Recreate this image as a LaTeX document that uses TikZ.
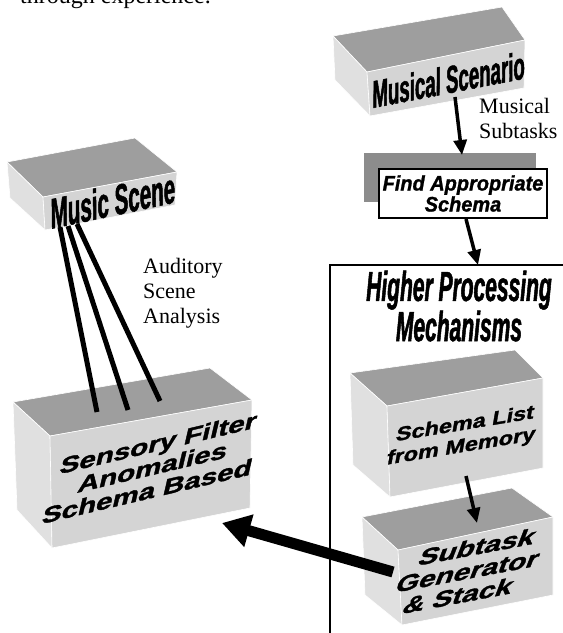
\documentclass[tikz,border=0pt]{standalone}
\usepackage{fontspec}
\setmainfont{Liberation Serif}
\newfontfamily\findsans[FakeStretch = 0.95, FakeBold = 1.2]{Liberation Sans Bold Italic}
\newfontfamily\widesans[FakeStretch = 1.12, FakeBold = 1.5]{Liberation Sans Bold}
\newfontfamily\narrowsans[FakeStretch = 0.5, FakeSlant = 0.2, FakeBold = 1.2]{Liberation Sans Bold}
\newfontfamily\narrowital[FakeStretch = 0.5, FakeBold = 1.2]{Liberation Sans Bold Italic}
\usetikzlibrary{arrows.meta}
\definecolor{topgray}{gray}{0.62}
\definecolor{frontgray}{gray}{0.83}
\definecolor{sidegray}{gray}{0.88}
\definecolor{bargray}{gray}{0.55}
\tikzset{
	topface/.style = {fill = topgray, draw = white, line width = 0.6pt},
	sideface/.style = {fill = sidegray, draw = white, line width = 0.6pt},
	frontface/.style = {fill = frontgray, draw = white, line width = 0.6pt},
	blocklabel/.style = {font = \widesans\fontsize{24}{25}\selectfont, align = center, inner sep = 0pt},
	narrowlabel/.style = {font = \narrowsans\fontsize{42}{34}\selectfont, align = center, inner sep = 0pt},
	notelabel/.style = {font = \fontsize{22}{25}\selectfont, align = left, inner sep = 0pt},
	flow/.style = {line width = 3.5pt, -{Triangle[length = 15pt, width = 13pt]}},
	fatflow/.style = {line width = 11pt, -{Triangle[length = 28pt, width = 32pt]}},
	beam/.style = {line width = 5pt}
}
% back-left, back-right, front-right, front-left (top), front-left, front-right (bottom), back-left (bottom)
\newcommand{\slabbox}[7]{%
	\filldraw[topface] #1 -- #2 -- #3 -- #4 -- cycle;
	\filldraw[sideface] #1 -- #4 -- #5 -- #7 -- cycle;
	\filldraw[frontface] #4 -- #3 -- #6 -- #5 -- cycle;}
\begin{document}
\begin{tikzpicture}[x = 1pt, y = -1pt]
		\useasboundingbox (0, 0) rectangle (563, 633);
		%%%%%%%%%%%%%
		\draw [line width = 2pt] (570, 265) -- (330, 265) -- (330, 640);
		\filldraw [fill = bargray, draw = none] (364, 153) rectangle (536, 202);
		%%%%%%%%%%%%%
		\slabbox{(333, 36)}{(502, 7)}{(525, 40)}{(367, 72)}{(370, 116)}{(524, 88)}{(335, 80)}
		\slabbox{(7, 162)}{(135, 138)}{(177, 172)}{(43, 197)}{(45, 230)}{(175, 205)}{(10, 198)}
		\slabbox{(13, 402)}{(210, 368)}{(252, 400)}{(50, 436)}{(52, 548)}{(250, 508)}{(17, 510)}
		\slabbox{(350, 373)}{(515, 350)}{(543, 378)}{(387, 406)}{(390, 497)}{(543, 468)}{(353, 465)}
		\slabbox{(362, 517)}{(512, 488)}{(553, 517)}{(398, 550)}{(402, 625)}{(553, 595)}{(365, 595)}
		%%%%%%%%%%%%%
		\node [notelabel, font = \fontsize{24}{25}\selectfont, anchor = base west] (intro) at (20, 3) {through experience.};
		\node [narrowlabel, font = \narrowsans\fontsize{38}{34}\selectfont, rotate = 11] (scen) at (446, 80) {Musical Scenario};
		\node [notelabel, anchor = north west] (subt) at (479, 98) {Musical\\Subtasks};
		\node [draw, line width = 1.8pt, fill = white, minimum width = 168pt, minimum height = 49pt, inner sep = 0pt, align = center,
			font = \findsans\fontsize{21}{21}\selectfont] (find) at (463, 193.5) {Find Appropriate\\Schema};
		\node [narrowlabel, font = \narrowital\fontsize{42}{34}\selectfont] (hpm) at (459, 306) {Higher Processing\\Mechanisms};
		\node [blocklabel, font = \widesans\fontsize{20}{23}\selectfont, xslant = 0.35, rotate = 10] (list) at (463, 436) {Schema List\\from Memory};
		\node [blocklabel, xslant = 0.6, rotate = 12] (stack) at (468, 571) {Subtask\\Generator\\\& Stack};
		\node [narrowlabel, rotate = 12] (scene) at (110, 201) {Music Scene};
		\node [notelabel, anchor = north west] (asa) at (143, 258) {Auditory\\Scene\\Analysis};
		\node [blocklabel, xslant = 0.5, rotate = 15] (filt) at (153, 467) {Sensory Filter\\Anomalies\\Schema Based};
		%%%%%%%%%%%%%
		\coordinate (s0) at (455, 97); \coordinate (s1) at (462, 155);
		\coordinate (f0) at (466, 219); \coordinate (f1) at (478, 265);
		\coordinate (l0) at (466, 476); \coordinate (l1) at (477, 523);
		\coordinate (t0) at (393, 572); \coordinate (t1) at (222, 523);
		\coordinate (m1) at (60, 227); \coordinate (n1) at (97, 412);
		\coordinate (m2) at (68, 226); \coordinate (n2) at (128, 410);
		\coordinate (m3) at (77, 224); \coordinate (n3) at (160, 401);
		%%%%%%%%%%%%%
		\draw [flow] (s0) to (s1);
		\draw [flow] (f0) to (f1);
		\draw [flow] (l0) to (l1);
		\draw [fatflow] (t0) to (t1);
		\draw [beam] (m1) to (n1); \draw [beam] (m2) to (n2); \draw [beam] (m3) to (n3);
		%%%%%%%%%%%%%%
\end{tikzpicture}
\end{document}
